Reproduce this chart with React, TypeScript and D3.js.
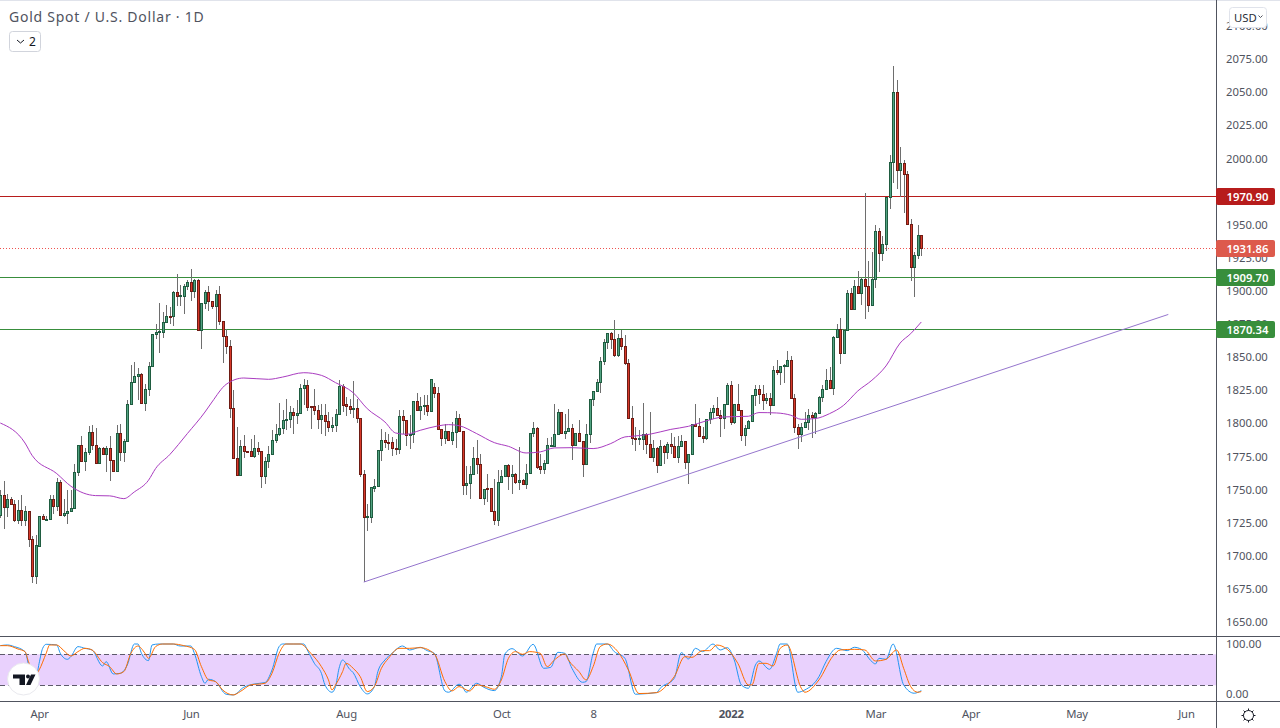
import React, { useEffect, useRef } from 'react';
import * as d3 from 'd3';

// daily candles
const opens = [
  1729.9,1745,1736.2,1742.4,1738.7,1726.1,1734.1,1726.1,1733.4,1712.3,
  1684.1,1706.7,1729.6,1727.1,1727.4,1742.4,1736.9,1755.3,1730.1,1731.9,
  1733.1,1735.7,1762.8,1783.2,1771.1,1777.9,1793,1782.9,1769.6,1780.9,
  1776.4,1780.9,1771.9,1763.3,1792.2,1777.9,1786.2,1814.1,1830.7,1835.2,
  1836.7,1814.6,1825.4,1842.8,1866.4,1868.4,1868.4,1875.9,1880.5,1880,
  1898.6,1895.6,1895.6,1903.1,1906.1,1899.1,1907.6,1869.9,1890.3,1898.6,
  1891.5,1887.8,1897.1,1876.4,1865.4,1857.8,1811.1,1773.4,1760.6,1782.4,
  1778.7,1778.7,1774.9,1780.9,1778.4,1759.6,1771.1,1776.4,1787,1791.5,
  1796,1802,1802.5,1807.6,1805.6,1807.3,1826.2,1828.4,1812.4,1812.4,
  1809.3,1802.5,1805.8,1801,1796.8,1798,1806.6,1827.7,1813.6,1812.4,
  1810.1,1811.1,1803.6,1761.3,1728.9,1728.6,1750.5,1752.3,1779.4,1787,
  1785.5,1785.5,1780.7,1780.2,1805.1,1802,1790.7,1791.5,1816.4,1809.1,
  1812.6,1813.4,1808.6,1826.9,1822.4,1795,1788.2,1793.8,1787,1793,
  1803.6,1793.8,1753,1754.5,1761.3,1773.4,1768.9,1743,1750.3,1750.8,
  1733.4,1726.6,1755.3,1759.8,1768.1,1759.8,1761.3,1755,1756.8,1753.8,
  1762.1,1792.2,1796,1766.8,1764.8,1769.4,1782.7,1782.2,1791.5,1807.6,
  1792,1793.5,1796,1782.9,1792.2,1786.2,1768.9,1791.5,1817.9,1823.4,
  1830.7,1846.5,1860.9,1867.4,1863.1,1851,1863.9,1857.9,1845,1803.3,
  1788.5,1787.7,1787.7,1791.5,1784,1773.9,1780.9,1767.6,1782.4,1777.7,
  1784,1782.4,1773.9,1782.2,1786.2,1770.1,1776.4,1799,1797.6,1790,
  1788.5,1802.6,1807.9,1811.1,1805.6,1803.4,1814.2,1828.5,1800.6,1814.2,
  1809.6,1790.5,1796.1,1801.3,1820.7,1825.5,1821.7,1817.2,1818.7,1813.2,
  1839.8,1838,1842.8,1842.8,1847.3,1818.7,1796.8,1791.3,1796.6,1800.6,
  1805.9,1804.1,1807.1,1819.2,1825.5,1832.3,1826,1864.7,1870.7,1852.4,
  1869.4,1897.8,1885.8,1903.1,1897.8,1908.6,1903.1,1888.5,1908.1,1944.6,
  1928,1934.8,1970,1996.6,2049.4,1990.6,1995.9,1987.6,1949.9,1917.2,1926.5,1941.6,
];
const highs = [
  1749,1755.8,1746.2,1743.7,1741.7,1741.2,1745,1736.7,1733.4,1714,
  1714.8,1729.6,1730.6,1729.1,1745,1745,1758.3,1756.3,1742.4,1748.7,
  1748.7,1768.8,1783.2,1789.5,1780.4,1797,1797.8,1795.5,1781.4,1781.4,
  1781.9,1789.5,1771.9,1797.8,1799,1787.7,1817.1,1843,1845.3,1841.2,
  1837.2,1829.2,1845.8,1866.4,1874.4,1890,1883.7,1889,1887,1899.1,
  1912.1,1904.1,1904.6,1907.6,1915.9,1908.6,1908.4,1890.3,1899.6,1903.1,
  1891.5,1899.6,1902.6,1876.4,1870.7,1862.4,1824.7,1796.5,1786.4,1790.2,
  1778.7,1787.7,1790.2,1785.2,1778.4,1773.9,1781.9,1794.5,1799,1814.6,
  1809.1,1817.9,1812.1,1811.1,1816.6,1829.2,1833,1831.7,1812.4,1824.9,
  1812.9,1814.1,1814.1,1807.8,1804.1,1809.8,1831.7,1828.7,1819.1,1817.9,
  1831,1817.9,1803.6,1764.3,1738.2,1751.3,1757.6,1779.4,1795.3,1792.7,
  1791.5,1789,1787.7,1809.1,1809.1,1802,1805.3,1816.4,1822.4,1819.1,
  1820.4,1820.4,1833,1829.5,1826.9,1795.3,1799,1793.8,1800.3,1808.3,
  1806.6,1793.8,1766.8,1766.8,1781.4,1787,1775.9,1750,1760.8,1750.8,
  1757.5,1763.8,1763.8,1768.1,1768.9,1768.1,1761.8,1781.4,1757.5,1768.9,
  1792.2,1800.3,1796.5,1776.4,1771.4,1788.5,1789,1813.6,1810.1,1807.6,
  1806.6,1809.8,1799,1792.2,1801.5,1786.2,1798.5,1817.9,1823.4,1833,
  1849.3,1863.1,1867.4,1867.9,1877,1866.9,1869.4,1865.6,1848,1812.1,
  1796.5,1794.5,1814.6,1792,1807.8,1786.5,1781.4,1787,1782.7,1785.2,
  1792.2,1789,1789.5,1790.5,1786.2,1776.4,1799,1813.7,1803.6,1796.6,
  1802.9,1811.1,1812.9,1819.2,1809.1,1814.2,1829.8,1831,1814.2,1829.2,
  1809.6,1797.8,1802.1,1821,1828,1828,1828,1822.2,1822.2,1842.8,
  1847.3,1842.8,1843.8,1853.6,1849.9,1821.7,1799.1,1799.6,1807.9,1810.4,
  1807.9,1807.9,1819.7,1828,1840.6,1841.8,1865.2,1874,1879,1870.7,
  1900.3,1901.6,1907.6,1914.2,1909.6,1973.2,1921.7,1929,1949.4,1946.9,
  1941,1970,2002.2,2069.3,2058.7,2008.2,1998.4,1989.6,1953.6,1929,1949.4,1941.6,
];
const lows = [
  1728,1719.6,1728.6,1737.4,1724.8,1723.6,1721.8,1721.8,1706,1678.8,
  1678.1,1706,1727.1,1727.1,1727.4,1730.6,1733.1,1730.1,1728.6,1723.1,
  1732.4,1734.9,1759.3,1770.1,1763.3,1775.1,1779.4,1769.3,1768.3,1775.9,
  1762.6,1755.8,1763.3,1763.3,1770.6,1770.1,1786.2,1813.6,1829.7,1817.1,
  1813.6,1808.6,1819.6,1842.3,1863.1,1852.3,1863.6,1875.7,1874.4,1872.7,
  1887.8,1887.8,1881.7,1899.6,1892,1894,1869.9,1855.3,1885.7,1884,
  1885.7,1869.9,1873.9,1844.8,1851.3,1803,1773.4,1760.6,1760.6,1772.9,
  1778.4,1774.4,1773.4,1775.1,1750.5,1753.3,1765.6,1776.4,1784.5,1789.5,
  1791,1794,1795.8,1791,1799,1807.3,1812.9,1808.6,1795,1805.3,
  1795.3,1791,1789.5,1792.7,1792.7,1792.7,1806.1,1807.8,1804.6,1806.1,
  1803.6,1799.5,1758.8,1679.1,1718.1,1724.1,1747.5,1752.3,1770.9,1780.9,
  1778.9,1774.4,1775.1,1775.9,1791,1781.9,1779.7,1784.5,1809.1,1801.5,
  1805.3,1804.6,1808.6,1818.6,1795,1782.2,1783.4,1786.5,1782.7,1780.7,
  1793.5,1745,1745,1741.9,1761.3,1761.3,1743,1737.4,1739.9,1732.7,
  1722.3,1721.6,1754.3,1759.5,1748.7,1746.2,1753.8,1748.7,1753.3,1750,
  1762.1,1789,1764.8,1761.3,1761.3,1769.4,1781.4,1781.9,1791.5,1792,
  1787.7,1792.7,1771.4,1782.7,1785.7,1758.8,1768.9,1784.4,1812.1,1822.9,
  1822.2,1843,1855.6,1855.6,1849.3,1849.3,1854.3,1843,1803.3,1782.7,
  1778.4,1782.7,1778.9,1776.4,1773.4,1770.1,1761.8,1766.8,1768.9,1772.1,
  1776.4,1773.4,1769.4,1781.9,1765.1,1753.8,1775.9,1796.6,1789.5,1784.5,
  1786.5,1799.1,1802.9,1804.9,1789,1795.3,1814.2,1798.1,1799.1,1809.1,
  1786,1782,1795.3,1800.3,1812.2,1814.2,1809.6,1814.2,1805.4,1812.9,
  1835.5,1828,1829.8,1842.3,1818.4,1792,1780,1785,1796.1,1794.1,
  1788.3,1791.5,1806.6,1815.4,1824.7,1825.5,1820.4,1864.4,1843.8,1851.9,
  1869.4,1885.8,1885.8,1897.8,1889,1878,1883.2,1888.5,1901.1,1913.4,
  1921.7,1929.3,1960.9,1980.5,1976,1970.5,1958.4,1949.9,1906.6,1894.6,1923,1926,
];
const closes = [
  1745,1736.2,1742.4,1738.7,1726.1,1734.1,1726.1,1733.4,1712.3,1684.1,
  1707.2,1729.6,1727.1,1727.4,1742.4,1736.9,1755.3,1730.1,1731.9,1733.1,
  1735.7,1762.8,1783.2,1771.1,1777.9,1793,1782.9,1769.6,1780.9,1776.4,
  1780.9,1771.9,1763.3,1792.2,1777.9,1786.2,1814.1,1830.7,1835.2,1836.7,
  1814.6,1825.4,1842.8,1866.4,1868.4,1868.9,1875.9,1880.5,1879.5,1898.6,
  1895.6,1895.9,1903.1,1906.1,1899.1,1907.6,1869.9,1890.3,1898.6,1891.5,
  1887.8,1897.1,1876.4,1865.4,1857.8,1811.1,1773.4,1760.6,1782.2,1778.7,
  1778.4,1774.9,1780.9,1778.4,1759.6,1771.1,1776.4,1787,1791.5,1796,
  1802,1802.5,1807.6,1805.6,1807.3,1826.2,1828.4,1811.6,1811.6,1809.3,
  1802.5,1805.8,1801,1796.8,1798,1806.6,1827.7,1813.1,1812.6,1810.1,
  1811.1,1803.6,1761.3,1728.9,1729.1,1751,1752.3,1779.4,1787,1785.2,
  1785.2,1780.7,1779.9,1805.1,1801.5,1790.7,1791.5,1816.4,1809.1,1812.6,
  1813.4,1808.6,1833,1822.4,1795,1788.2,1793.8,1787,1793,1803.6,
  1793.5,1753,1754.5,1761.3,1773.4,1768.9,1743,1750,1750.1,1733.2,
  1726.6,1755.3,1759.8,1768.1,1759.8,1761.3,1755,1756.8,1753.8,1762.1,
  1792.2,1796,1766.3,1764.8,1769.4,1782.7,1782.9,1791.5,1807.6,1792,
  1793.7,1796,1782.9,1792.2,1786.2,1768.6,1791.5,1817.9,1823.4,1830.7,
  1846.5,1860.9,1867.4,1863.1,1851,1863.6,1857.9,1845,1803.3,1788.5,
  1787.7,1787.9,1791.5,1784,1773.9,1780.9,1767.6,1782.4,1777.7,1784,
  1782.2,1773.9,1782.4,1786.2,1770.1,1776.4,1799,1797.6,1790,1788.5,
  1802.9,1808.1,1811.1,1805.6,1803.1,1814.2,1828.5,1800.6,1814.2,1809.1,
  1790.5,1796.1,1801.3,1821,1825.5,1821.7,1816.9,1818.7,1813.2,1839.8,
  1838,1842.8,1843,1847.3,1818.7,1796.6,1791.3,1796.8,1800.6,1805.6,
  1804.4,1807.1,1819.2,1825.5,1832.3,1826,1864.7,1870.7,1852.4,1869.5,
  1897.8,1885.8,1903.1,1897.8,1908.6,1903.1,1888.5,1908.6,1944.6,1928,
  1934.8,1970,1996.6,2049.4,1990.6,1995.9,1987.6,1949.9,1917.2,1926.5,1941.6,1931.86,
];

// moving average, [bar, price]
const maPoints: [number, number][] = [
  [0,1799.5],[7,1784.4],[9,1775.1],[16,1761.3],[20,1751.8],[27,1744.7],[31,1744.5],[35,1742.4],
  [38,1747.5],[42,1756.3],[44,1765.1],[48,1775.6],[53,1791.5],[58,1807.8],[60,1815.4],[64,1828.7],
  [69,1833.5],[76,1832.5],[80,1834.2],[86,1837.5],[91,1835.5],[95,1830],[100,1822.4],[104,1810.3],
  [109,1800.3],[112,1792],[115,1791],[119,1794],[124,1797.3],[127,1798.3],[130,1797.5],[135,1791.5],
  [140,1784.7],[144,1781.9],[149,1776.9],[153,1777.7],[157,1780.7],[162,1780.9],[168,1780.2],[173,1784],
  [177,1789],[179,1789.5],[184,1791],[190,1794.7],[195,1797],[200,1801.1],[205,1804.1],[212,1804.6],
  [215,1807.4],[220,1807.1],[224,1805.4],[227,1802.3],[231,1802.9],[235,1806.6],[239,1812.9],[243,1823.7],
  [247,1831.8],[251,1842.6],[255,1859.9],[258,1867],[261,1875.8],
];

// rising support line
const trendBars = [103, 331];
const trendPrices = [1679.4, 1881.5];

// stochastic RSI, [bar, value]
const kPoints: [number, number][] = [
  [0,96.8],[2,98.1],[4,94.9],[7,85.2],[8,60],[9,35],[10,30],[11,62.6],[12,91.6],[13,99.4],[16,98.1],[17,82],
  [19,70.3],[20,75.5],[22,94.9],[24,91.6],[26,88.4],[29,57.4],[30,65.8],[32,42],[34,43.2],[36,59.4],[38,100],
  [39,100],[40,82],[42,67.8],[43,98.1],[45,100],[49,100],[51,96.1],[54,96.1],[55,82],[57,36.8],[58,23.9],
  [59,31.6],[61,27.1],[64,2.6],[66,1.3],[69,16.2],[72,22.6],[75,25.2],[77,49.7],[79,94.9],[80,100],[83,100],
  [86,100],[87,88.4],[89,62.6],[91,43.2],[92,20.7],[94,6.5],[95,17.4],[96,52.9],[97,69],[99,51],[100,44.5],
  [102,17.4],[104,3.3],[106,17.4],[107,46.5],[109,69],[111,81.9],[114,96.1],[116,88.4],[119,93.6],[121,87.1],
  [123,81.9],[126,9],[127,6.5],[130,22],[131,17.4],[132,6.5],[135,23.9],[137,16.2],[140,9.7],[142,36.8],
  [143,80.7],[145,91],[148,76.8],[151,99.4],[154,52.9],[156,54.8],[158,83.9],[160,81.9],[162,52.9],[165,25.8],
  [166,27.1],[168,81.9],[169,100],[172,100],[174,85.2],[177,72.3],[180,2.6],[181,3],[186,5.8],[187,14.2],
  [191,33.6],[193,83.2],[195,71],[197,91.6],[199,85.2],[202,100],[204,88.4],[206,92.9],[208,69],[210,20.7],
  [212,14.2],[214,59.4],[215,67.1],[218,51],[220,82],[221,100],[223,100],[226,6.5],[228,11],[232,36.8],
  [234,65.8],[237,91.6],[240,87.1],[242,93.6],[244,89.7],[247,65.8],[248,61.3],[249,72.3],[251,70.3],
  [253,100],[256,20.7],[259,4.6],[261,9.7],
];
const dPoints: [number, number][] = [
  [0,96.8],[2,96.8],[5,90.3],[7,85.2],[8,65.8],[10,40],[11,49.7],[13,82],[14,98.1],[16,98.1],[18,87.1],[20,76.8],
  [22,85.2],[24,91.6],[26,88.4],[29,63.9],[31,56.1],[33,42],[35,46.5],[37,82],[39,96.1],[41,82],[42,72.3],
  [44,94.9],[46,100],[49,100],[52,96.8],[55,89.7],[57,56.1],[59,30.4],[61,27.1],[63,11],[66,1.3],[68,7.8],
  [71,20.7],[75,23.9],[77,43.2],[79,82],[81,100],[85,100],[88,82],[91,56.1],[93,30.4],[94,11],[95,20.7],
  [97,46.5],[98,62.6],[100,52.9],[102,36.8],[104,7.8],[106,17.4],[108,52.9],[110,72.3],[113,91.6],[116,91.6],
  [119,92.9],[123,80.7],[126,27.1],[128,9],[130,17.4],[133,9],[135,20.7],[138,16.2],[140,12.3],[142,30.4],
  [144,72.3],[146,85.2],[148,80],[150,85.2],[153,82],[155,56.1],[157,69],[160,80.7],[161,69],[164,46.5],
  [166,30.4],[168,56.1],[170,94.9],[172,100],[175,85.2],[178,49.7],[181,4],[186,5.8],[189,20.7],[191,36.8],
  [194,75.5],[196,74.2],[199,87.1],[201,87.1],[203,98],[206,89.7],[209,62.6],[212,20.7],[213,20.7],[215,62.6],
  [217,62.6],[219,57.4],[221,91.6],[223,98],[227,14.2],[228,6.5],[232,30.4],[236,76.8],[238,88.4],[242,89.7],
  [245,88.4],[248,67.1],[251,70.3],[254,88.4],[256,52.9],[258,17.4],[260,6.5],[261,7.8],
];
const stochBands = [80, 20];

// axes
const priceTicks = d3.range(1650, 2101, 25);
const stochTicks = [100, 0];
const timeBars = [11, 54, 98, 142, 168, 207, 248, 275, 305, 336];
const timeLabels = ['Apr', 'Jun', 'Aug', 'Oct', '8', '2022', 'Mar', 'Apr', 'May', 'Jun'];

// drawn horizontals and the last price
const levelPrices = [1970.9, 1909.7, 1870.34];
const levelColors = ['#b71c1c', '#388e3c', '#388e3c'];
const lastPrice = 1931.86;

const FONT = "'Noto Sans', sans-serif";
const AXIS_SIZE = 11.3;
const W = 1280;
const H = 728;
const PLOT_W = 1216;
const PANE_BOTTOM = 636;
const STOCH_BOTTOM = 701;
const TEXT = '#50535e';

const App: React.FC = () => {
  const svgRef = useRef<SVGSVGElement>(null);

  useEffect(() => {
    if (!svgRef.current) return;
    const svg = d3.select(svgRef.current);
    svg.selectAll('*').remove();

    const x = d3.scaleLinear().domain([0, 261]).range([0.3, 921.3]);
    const y = d3.scaleLinear().domain([1650, 2075]).range([621, 58.2]);
    const yStoch = d3.scaleLinear().domain([0, 100]).range([695.6, 644]);

    svg.append('rect').attr('width', W).attr('height', H).attr('fill', '#ffffff');
    svg.append('rect').attr('width', W).attr('height', 1).attr('fill', '#e0e3eb');

    const plot = svg.append('g').attr('shape-rendering', 'crispEdges');

    // level lines under the candles
    levelPrices.forEach((p, i) => {
      plot.append('line')
        .attr('x1', 0).attr('x2', PLOT_W)
        .attr('y1', Math.round(y(p)) + 0.5).attr('y2', Math.round(y(p)) + 0.5)
        .attr('stroke', levelColors[i]).attr('stroke-width', 1);
    });
    plot.append('line')
      .attr('x1', 0).attr('x2', PLOT_W)
      .attr('y1', Math.round(y(lastPrice)) + 0.5).attr('y2', Math.round(y(lastPrice)) + 0.5)
      .attr('stroke', '#ef5350').attr('stroke-width', 1).attr('stroke-dasharray', '1,2');

    // candles
    opens.forEach((o, i) => {
      const c = closes[i];
      const up = c >= o;
      const cx = Math.round(x(i));
      const top = Math.round(y(Math.max(o, c)));
      const bottom = Math.round(y(Math.min(o, c)));
      const bodyH = Math.max(bottom - top, 1);
      const g = plot.append('g');
      g.append('rect')
        .attr('x', cx).attr('width', 1)
        .attr('y', Math.round(y(highs[i])))
        .attr('height', Math.max(Math.round(y(lows[i])) - Math.round(y(highs[i])), 1))
        .attr('fill', '#6e6e6e');
      g.append('rect')
        .attr('x', cx - 1).attr('width', 3)
        .attr('y', top).attr('height', bodyH + 1)
        .attr('fill', up ? '#1f5c40' : '#6e1c14');
      if (bodyH > 1) {
        g.append('rect')
          .attr('x', cx).attr('width', 1)
          .attr('y', top + 1).attr('height', bodyH - 1)
          .attr('fill', up ? '#52a382' : '#d8392a');
      }
    });

    // moving average and support line
    const maLine = d3.line<[number, number]>()
      .x(d => x(d[0]))
      .y(d => y(d[1]))
      .curve(d3.curveMonotoneX);
    svg.append('path')
      .datum(maPoints)
      .attr('fill', 'none')
      .attr('stroke', '#a93cc0')
      .attr('stroke-width', 1)
      .attr('d', maLine);
    svg.append('line')
      .attr('x1', x(trendBars[0])).attr('y1', y(trendPrices[0]))
      .attr('x2', x(trendBars[1])).attr('y2', y(trendPrices[1]))
      .attr('stroke', '#9575cd').attr('stroke-width', 1);

    // stochastic pane
    svg.append('rect')
      .attr('x', 0).attr('width', PLOT_W)
      .attr('y', yStoch(stochBands[0])).attr('height', yStoch(stochBands[1]) - yStoch(stochBands[0]))
      .attr('fill', '#e9d1fd');
    stochBands.forEach(v => {
      svg.append('line')
        .attr('x1', 0).attr('x2', PLOT_W)
        .attr('y1', Math.round(yStoch(v)) + 0.5).attr('y2', Math.round(yStoch(v)) + 0.5)
        .attr('stroke', '#5d5a6b').attr('stroke-width', 1).attr('stroke-dasharray', '5,3')
        .attr('shape-rendering', 'crispEdges');
    });
    const stochLine = d3.line<[number, number]>()
      .x(d => x(d[0]))
      .y(d => yStoch(d[1]))
      .curve(d3.curveMonotoneX);
    svg.append('path').datum(kPoints)
      .attr('fill', 'none').attr('stroke', '#2196f3').attr('stroke-width', 1).attr('d', stochLine);
    svg.append('path').datum(dPoints)
      .attr('fill', 'none').attr('stroke', '#ff6d00').attr('stroke-width', 1).attr('d', stochLine);

    // frame
    [PANE_BOTTOM, STOCH_BOTTOM].forEach(v => {
      svg.append('line')
        .attr('x1', 0).attr('x2', W).attr('y1', v + 0.5).attr('y2', v + 0.5)
        .attr('stroke', TEXT).attr('stroke-width', 1).attr('shape-rendering', 'crispEdges');
    });
    svg.append('line')
      .attr('x1', PLOT_W + 0.5).attr('x2', PLOT_W + 0.5).attr('y1', 0).attr('y2', H)
      .attr('stroke', TEXT).attr('stroke-width', 1).attr('shape-rendering', 'crispEdges');

    // price axis
    const priceAxis = d3.axisRight(y)
      .tickValues(priceTicks)
      .tickSize(0)
      .tickPadding(10)
      .tickFormat(d => d3.format('.2f')(d as number));
    const priceG = svg.append('g').attr('transform', `translate(${PLOT_W},0)`).call(priceAxis);
    priceG.select('.domain').remove();
    priceG.selectAll('text')
      .attr('font-family', FONT).attr('font-size', AXIS_SIZE).attr('fill', TEXT)
      .attr('dy', '0.4em');

    const stochAxis = d3.axisRight(yStoch)
      .tickValues(stochTicks)
      .tickSize(0)
      .tickPadding(10)
      .tickFormat(d => d3.format('.2f')(d as number));
    const stochG = svg.append('g').attr('transform', `translate(${PLOT_W},0)`).call(stochAxis);
    stochG.select('.domain').remove();
    stochG.selectAll('text')
      .attr('font-family', FONT).attr('font-size', AXIS_SIZE).attr('fill', TEXT)
      .attr('dy', d => ((d as number) === 0 ? '0.2em' : '0.32em'));

    // time axis
    const timeAxis = d3.axisBottom(x)
      .tickValues(timeBars)
      .tickSize(0)
      .tickPadding(9)
      .tickFormat((_, i) => timeLabels[i]);
    const timeG = svg.append('g').attr('transform', `translate(0,${STOCH_BOTTOM})`).call(timeAxis);
    timeG.select('.domain').remove();
    timeG.selectAll('text')
      .attr('font-family', FONT).attr('font-size', AXIS_SIZE).attr('fill', TEXT)
      .attr('letter-spacing', '-0.2px')
      .attr('font-weight', (_, i) => (timeLabels[i] === '2022' ? 700 : 400));

    // price tags on the axis
    const tags = [
      { value: levelPrices[0], color: '#b71c1c' },
      { value: lastPrice, color: '#dd5a4c' },
      { value: levelPrices[1], color: '#388e3c' },
      { value: levelPrices[2], color: '#388e3c' },
    ];
    tags.forEach(t => {
      const cy = Math.round(y(t.value)) + 0.5;
      svg.append('rect')
        .attr('x', PLOT_W).attr('y', cy - 8.5).attr('width', 59).attr('height', 17).attr('rx', 2)
        .attr('fill', t.color);
      svg.append('text')
        .attr('x', 1226.5).attr('y', cy + 4.2)
        .attr('font-family', FONT).attr('font-size', AXIS_SIZE).attr('font-weight', 600).attr('fill', '#ffffff')
        .text(d3.format('.2f')(t.value));
    });

    // title and buttons
    svg.append('text')
      .attr('x', 9).attr('y', 22)
      .attr('font-family', FONT).attr('font-size', 14).attr('letter-spacing', '0.75px').attr('fill', TEXT)
      .text('Gold Spot / U.S. Dollar · 1D');
    svg.append('rect')
      .attr('x', 9.5).attr('y', 31.5).attr('width', 31).attr('height', 20).attr('rx', 3)
      .attr('fill', '#ffffff').attr('stroke', '#d1d4dc');
    svg.append('path')
      .attr('d', 'M17 40 L20.5 43 L24 40')
      .attr('fill', 'none').attr('stroke', '#131722').attr('stroke-width', 1);
    svg.append('text')
      .attr('x', 29).attr('y', 46)
      .attr('font-family', FONT).attr('font-size', 12).attr('fill', '#131722')
      .text('2');

    svg.append('rect')
      .attr('x', 1229.5).attr('y', 7.5).attr('width', 37).attr('height', 20).attr('rx', 3)
      .attr('fill', '#ffffff').attr('stroke', '#e0e3eb');
    svg.append('text')
      .attr('x', 1234).attr('y', 21.5)
      .attr('font-family', FONT).attr('font-size', AXIS_SIZE).attr('fill', '#2a2e39')
      .text('USD');
    svg.append('path')
      .attr('d', 'M1258.5 15.5 L1260.5 17.5 L1262.5 15.5')
      .attr('fill', 'none').attr('stroke', '#50535e').attr('stroke-width', 1);

    // logo badge
    svg.append('circle')
      .attr('cx', 23.5).attr('cy', 679).attr('r', 16)
      .attr('fill', '#ffffff').attr('stroke', '#e9e9ee');
    svg.append('path')
      .attr('d', 'M13 674.5 H25 V685 H19.5 V678.5 H13 Z M31 674.5 H35.5 L30.5 685 H26 Z')
      .attr('fill', '#131722');
    svg.append('circle').attr('cx', 28).attr('cy', 676.5).attr('r', 2).attr('fill', '#131722');

    // settings icon
    const gear = svg.append('g').attr('transform', 'translate(1248.5,715.5)');
    gear.append('circle').attr('r', 5).attr('fill', 'none').attr('stroke', '#131722').attr('stroke-width', 1);
    d3.range(8).forEach(k => {
      const a = (k * Math.PI) / 4;
      gear.append('line')
        .attr('x1', 5 * Math.cos(a)).attr('y1', 5 * Math.sin(a))
        .attr('x2', 7 * Math.cos(a)).attr('y2', 7 * Math.sin(a))
        .attr('stroke', '#131722').attr('stroke-width', 1);
    });
  }, []);

  return (
    <svg
      ref={svgRef}
      width={W}
      height={H}
      style={{ position: 'absolute', left: 0, top: 0, display: 'block' }}
    />
  );
};

export default App;
